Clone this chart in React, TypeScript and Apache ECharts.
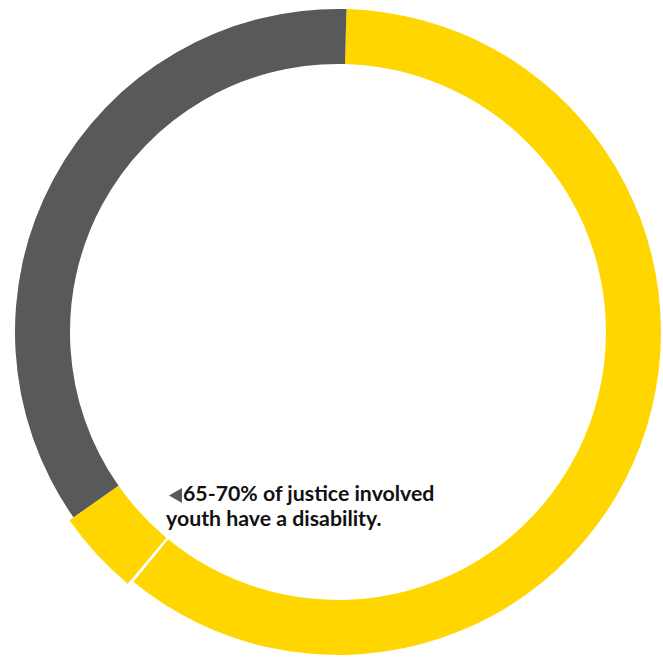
import React, { useEffect, useRef } from "react";
import * as echarts from "echarts";

const categories = ["Disability (main)", "gap", "Disability (highlight)", "No disability"];
const values = [60.6, 0.15, 4.2, 35.2];
const colors = ["#FFD600", "#FFFFFF", "#FFD600", "#58595B"];
const noteLines = ["65-70% of justice involved", "youth have a disability."];

export default function App() {
  const ref = useRef<HTMLDivElement>(null);
  useEffect(() => {
    if (!ref.current) return;
    const chart = echarts.init(ref.current, null, { renderer: "svg" });
    const mainData = categories.map((c, i) => ({
      name: c,
      value: values[i],
      itemStyle: { color: colors[i] },
    }));
    const overlayData = categories.map((c, i) => ({
      name: c,
      value: values[i],
      itemStyle: { color: i === 2 ? colors[i] : "rgba(0,0,0,0)" },
    }));
    chart.setOption({
      animation: false,
      backgroundColor: "#ffffff",
      series: [
        {
          type: "pie",
          center: [338, 332],
          radius: [268, 323],
          startAngle: 88.5,
          clockwise: true,
          label: { show: false },
          labelLine: { show: false },
          silent: true,
          data: mainData,
        },
        {
          type: "pie",
          center: [338, 332],
          radius: [269, 328],
          startAngle: 88.5,
          clockwise: true,
          label: { show: false },
          labelLine: { show: false },
          silent: true,
          data: overlayData,
        },
      ],
      graphic: [
        {
          type: "polygon",
          shape: { points: [[169, 495.5], [182, 488], [182, 503]] },
          style: { fill: "#58595B" },
        },
        {
          type: "text",
          x: 183,
          y: 503,
          style: {
            text: noteLines[0],
            font: "bold 21.3px Lato",
            fill: "#111111",
            verticalAlign: "bottom",
          },
        },
        {
          type: "text",
          x: 166,
          y: 528,
          style: {
            text: noteLines[1],
            font: "bold 21.3px Lato",
            fill: "#111111",
            verticalAlign: "bottom",
          },
        },
      ],
    });
    return () => chart.dispose();
  }, []);
  return (
    <div
      ref={ref}
      style={{ position: "fixed", left: 0, top: 0, width: 663, height: 661 }}
    />
  );
}
